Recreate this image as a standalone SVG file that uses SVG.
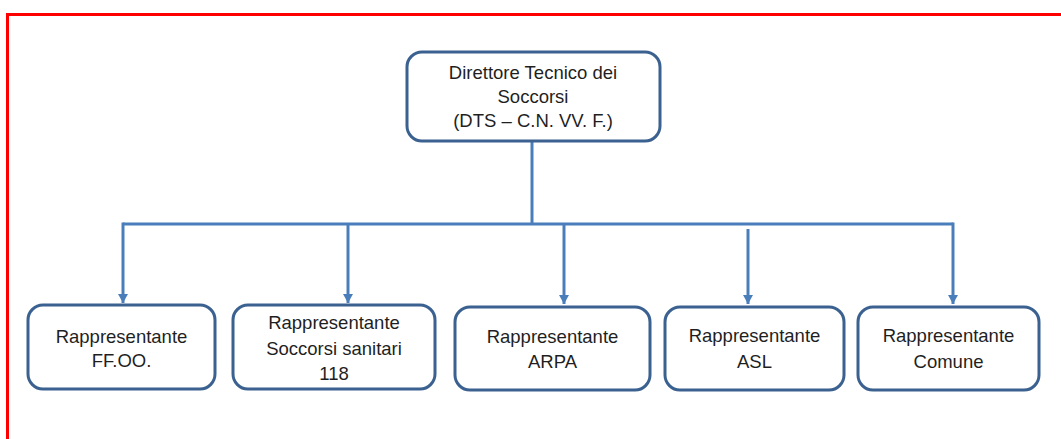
<svg xmlns="http://www.w3.org/2000/svg" width="1061" height="439" viewBox="0 0 1061 439">
<style>
.box{fill:#ffffff;stroke:#3a6190;stroke-width:3}
.lbl{font-family:"Liberation Sans",Arial,sans-serif;font-size:18.5px;fill:#1f1f1f;text-anchor:middle}
.conn{fill:none;stroke:#4a7ebb;stroke-width:3}
.frame{stroke:#ff0000;stroke-width:3;fill:none}
</style>
<defs>
<marker id="arr" markerUnits="userSpaceOnUse" markerWidth="12" markerHeight="10" refX="9" refY="5" orient="auto">
<path d="M0,0 L9,5 L0,10 Z" fill="#4a7ebb"/>
</marker>
</defs>
<rect width="1061" height="439" fill="#ffffff"/>
<g id="frame">
<line class="frame" x1="6" y1="14.5" x2="1061" y2="14.5"/>
<line class="frame" x1="7.5" y1="13" x2="7.5" y2="439"/>
</g>
<g id="connectors">
<line class="conn" x1="532" y1="142" x2="532" y2="224"/>
<polyline class="conn" points="123,224 953,224"/>
<line class="conn" x1="123" y1="222.5" x2="123" y2="303" marker-end="url(#arr)"/>
<line class="conn" x1="348" y1="224" x2="348" y2="303" marker-end="url(#arr)"/>
<line class="conn" x1="564" y1="224" x2="564" y2="304" marker-end="url(#arr)"/>
<line class="conn" x1="748" y1="229" x2="748" y2="304" marker-end="url(#arr)"/>
<line class="conn" x1="953" y1="222.5" x2="953" y2="304" marker-end="url(#arr)"/>
</g>
<g id="dts">
<rect class="box" x="407" y="52" width="253" height="89" rx="15"/>
<text class="lbl" x="533" y="79">Direttore Tecnico dei</text>
<text class="lbl" x="533" y="103">Soccorsi</text>
<text class="lbl" x="533" y="127">(DTS – C.N. VV. F.)</text>
</g>
<g id="ffoo">
<rect class="box" x="28" y="305" width="187" height="84" rx="15"/>
<text class="lbl" x="121.5" y="343">Rappresentante</text>
<text class="lbl" x="121.5" y="367">FF.OO.</text>
</g>
<g id="s118">
<rect class="box" x="233" y="305" width="202" height="84" rx="15"/>
<text class="lbl" x="334" y="329">Rappresentante</text>
<text class="lbl" x="334" y="355">Soccorsi sanitari</text>
<text class="lbl" x="334" y="380">118</text>
</g>
<g id="arpa">
<rect class="box" x="455" y="307" width="195" height="83" rx="15"/>
<text class="lbl" x="552.5" y="343">Rappresentante</text>
<text class="lbl" x="552.5" y="368">ARPA</text>
</g>
<g id="asl">
<rect class="box" x="665" y="307" width="179" height="83" rx="15"/>
<text class="lbl" x="754.5" y="342">Rappresentante</text>
<text class="lbl" x="754.5" y="368">ASL</text>
</g>
<g id="comune">
<rect class="box" x="858" y="307" width="181" height="83" rx="15"/>
<text class="lbl" x="948.5" y="342">Rappresentante</text>
<text class="lbl" x="948.5" y="368">Comune</text>
</g>
</svg>
